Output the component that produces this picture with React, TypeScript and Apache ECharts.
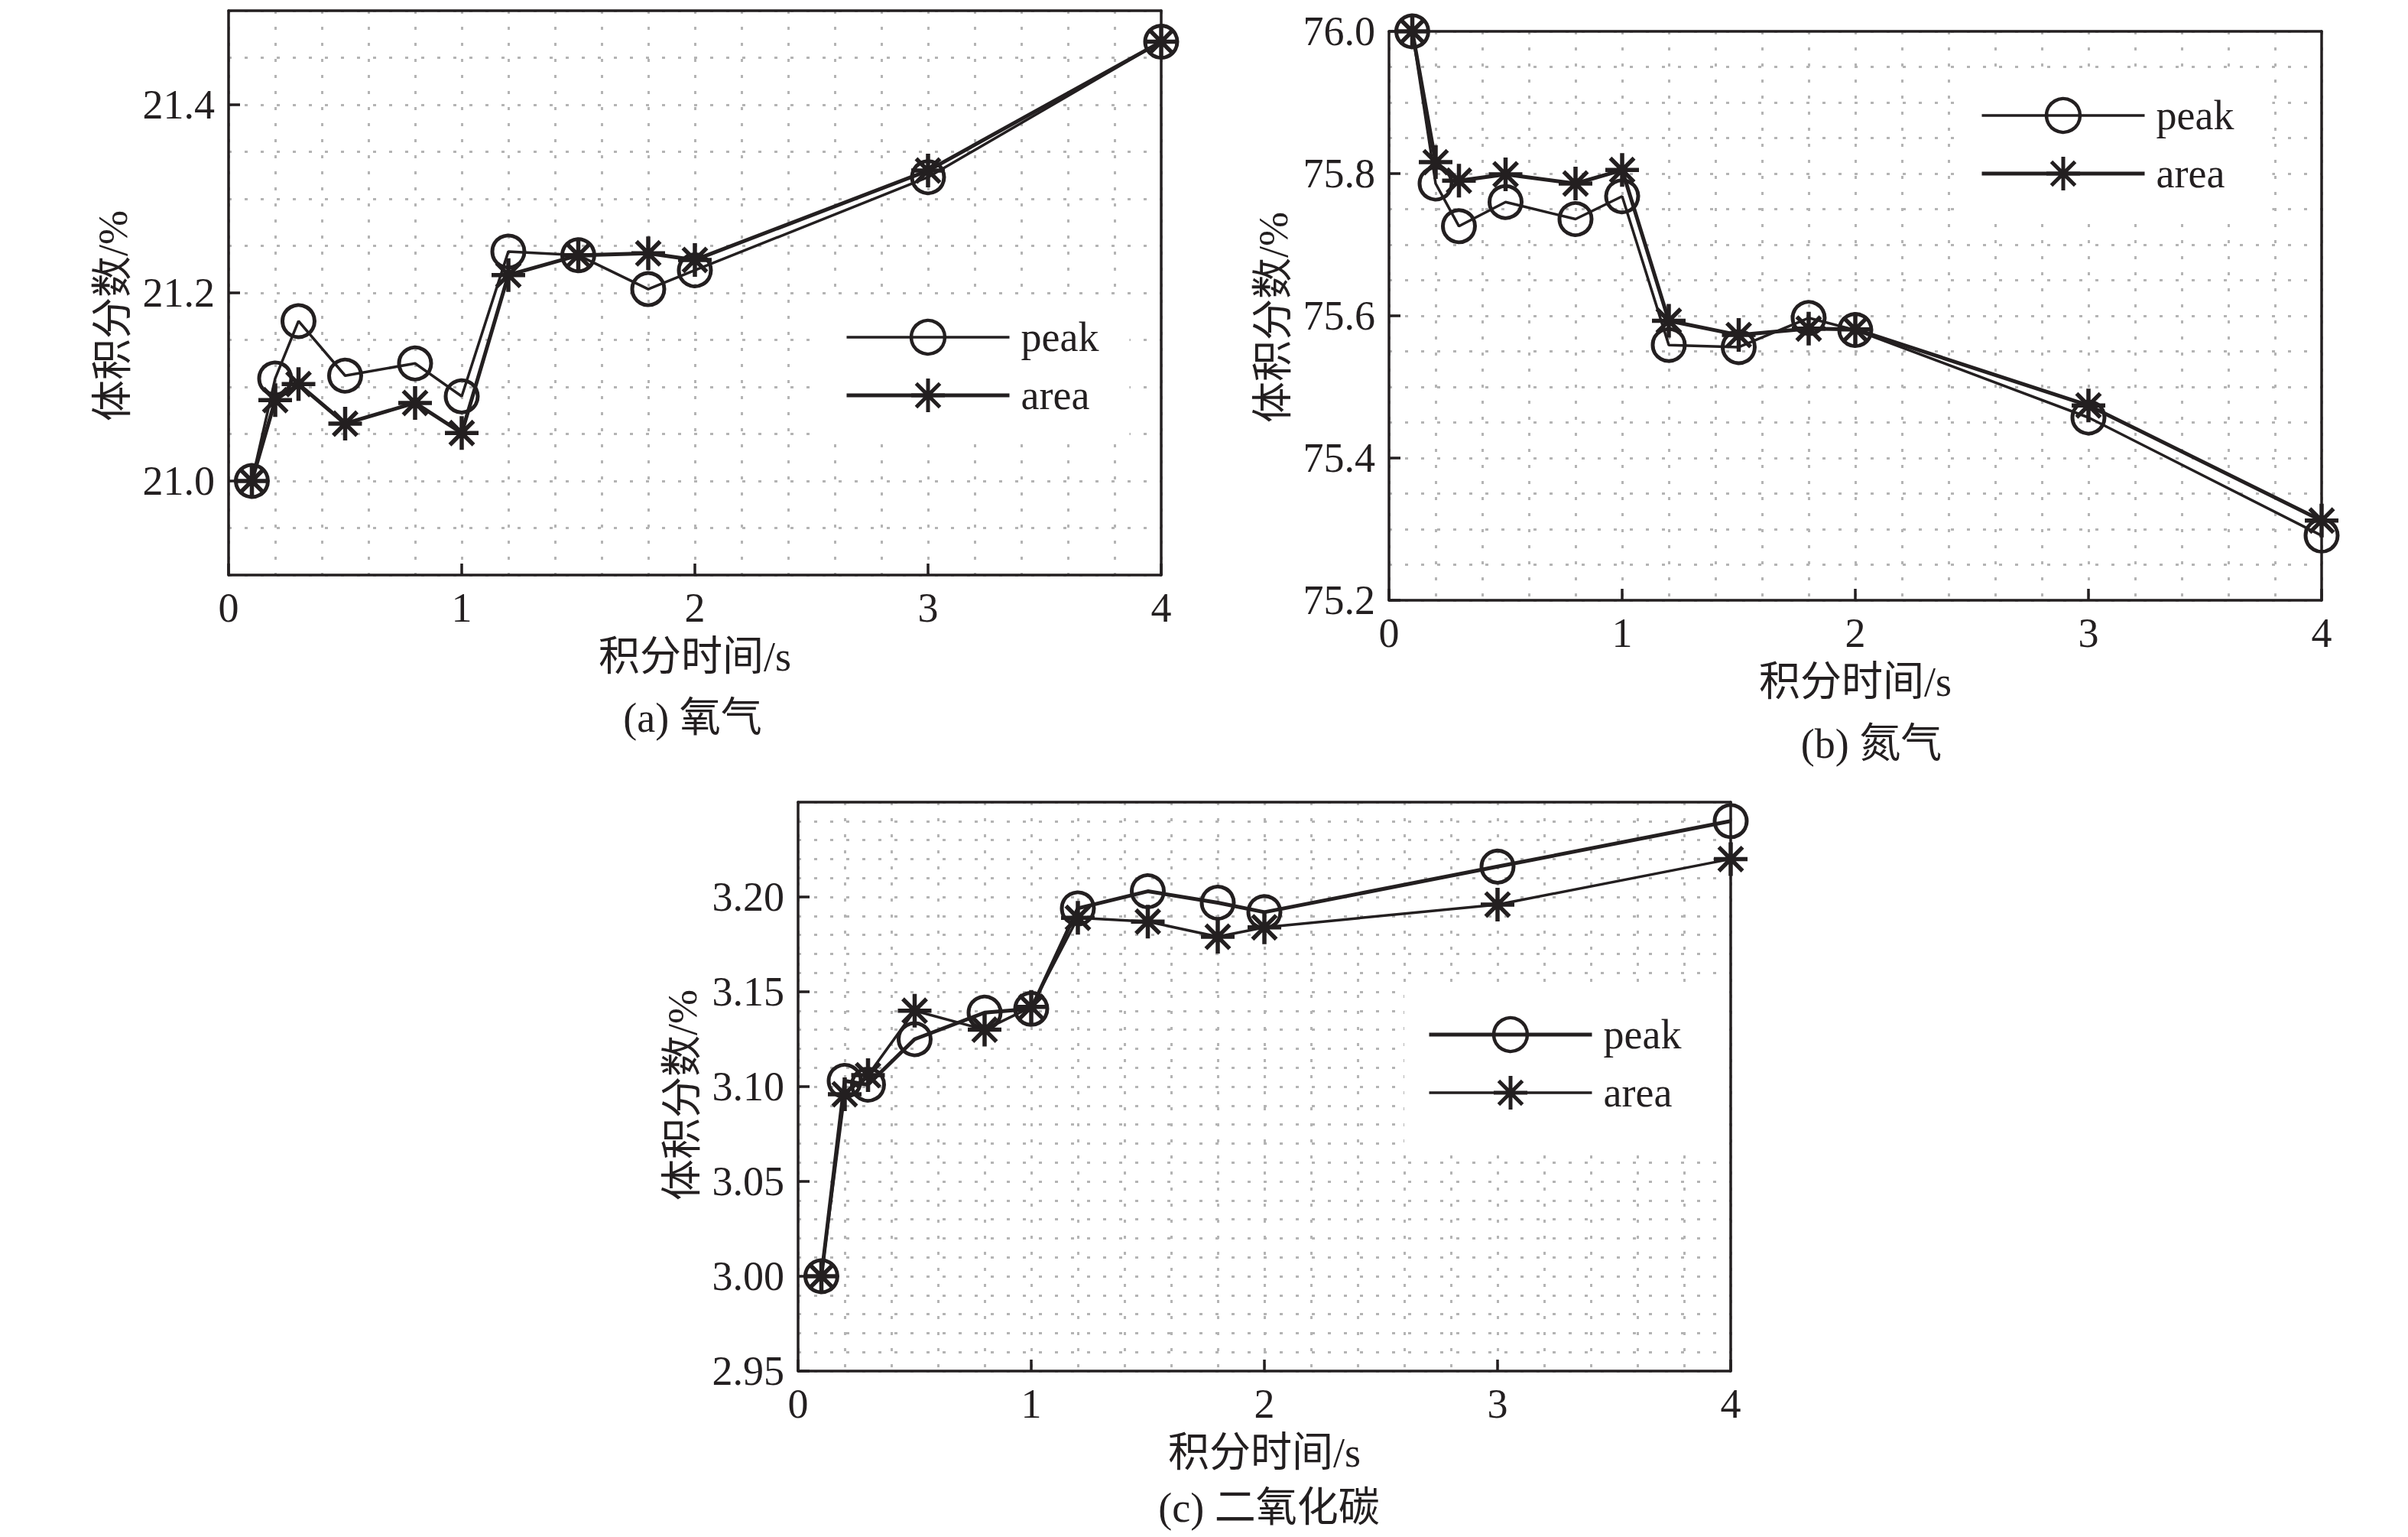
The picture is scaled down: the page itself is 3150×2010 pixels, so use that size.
import React, { useEffect, useRef } from "react";
import * as echarts from "echarts";

// ---------- data ----------
const xValues = [0.1, 0.2, 0.3, 0.5, 0.8, 1.0, 1.2, 1.5, 1.8, 2.0, 3.0, 4.0];
const xTickLabels = ["0", "1", "2", "3", "4"];

const o2Peak = [21.0, 21.109, 21.17, 21.112, 21.125, 21.09, 21.244, 21.24, 21.204, 21.224, 21.323, 21.467];
const o2Area = [21.0, 21.086, 21.103, 21.061, 21.083, 21.051, 21.219, 21.24, 21.242, 21.235, 21.33, 21.467];

const n2Peak = [76.0, 75.786, 75.726, 75.76, 75.736, 75.768, 75.559, 75.556, 75.597, 75.58, 75.457, 75.291];
const n2Area = [76.0, 75.816, 75.79, 75.799, 75.786, 75.805, 75.593, 75.573, 75.582, 75.581, 75.474, 75.312];

const co2Peak = [3.0, 3.103, 3.101, 3.125, 3.139, 3.141, 3.194, 3.203, 3.197, 3.192, 3.216, 3.24];
const co2Area = [3.0, 3.096, 3.106, 3.14, 3.13, 3.142, 3.189, 3.187, 3.179, 3.184, 3.196, 3.22];

const o2YLabels = ["21.0", "21.2", "21.4"];
const n2YLabels = ["75.2", "75.4", "75.6", "75.8", "76.0"];
const co2YLabels = ["2.95", "3.00", "3.05", "3.10", "3.15", "3.20"];

const panelTitles = ["(a) 氧气", "(b) 氮气", "(c) 二氧化碳"];
const xAxisName = "积分时间/s";
const yAxisName = "体积分数/%";
const seriesNames = ["peak", "area"];

// ---------- styling / layout ----------
const INK = "#231f20";
const GRIDC = "#b4b4b4";
const FONT = "'Liberation Serif', 'Times New Roman', 'Noto Sans CJK SC', serif";
const FS = 54;
const STAR =
  "path://M16,0L16,32M0,16L32,16M4.7,4.7L27.3,27.3M4.7,27.3L27.3,4.7";

const panels = [
  {
    key: "a",
    grid: { left: 299, top: 14, width: 1220, height: 738 },
    yMin: 20.9, yMax: 21.5, yStep: 0.1, yGridStep: 0.05, dec: 1,
    labels: o2YLabels, peak: o2Peak, area: o2Area,
    peakW: 3.5, areaW: 5,
    yNameShift: 30,
    legend: { left: 1075, top: 389, padding: [25, 40, 25, 30] },
    title: { x: 906, y: 939 },
  },
  {
    key: "b",
    grid: { left: 1817, top: 41, width: 1220, height: 744 },
    yMin: 75.2, yMax: 76.0, yStep: 0.2, yGridStep: 0.05, dec: 1,
    labels: n2YLabels, peak: n2Peak, area: n2Area,
    peakW: 3.5, areaW: 5,
    yNameShift: 2,
    legend: { left: 2560, top: 99, padding: [25, 50, 25, 30] },
    title: { x: 2448, y: 973 },
  },
  {
    key: "c",
    grid: { left: 1044, top: 1049, width: 1220, height: 744 },
    yMin: 2.95, yMax: 3.25, yStep: 0.05, yGridStep: 0.01, dec: 2,
    labels: co2YLabels, peak: co2Peak, area: co2Area,
    peakW: 5, areaW: 3.5,
    yNameShift: 11,
    legend: { left: 1837, top: 1287, padding: [39, 46, 50, 30] },
    title: { x: 1660, y: 1972 },
  },
];

function buildOption() {
  const grid: any[] = [];
  const xAxis: any[] = [];
  const yAxis: any[] = [];
  const series: any[] = [];
  const legend: any[] = [];
  const graphic: any[] = [];

  const textStyle = { fontSize: FS, fontFamily: FONT, color: INK };
  const gridLine = { show: true, lineStyle: { type: [4, 17], color: GRIDC, width: 3 } };
  const frameLine = { show: true, onZero: false, lineStyle: { color: INK, width: 3.5 } };

  panels.forEach((p, i) => {
    grid.push({ ...p.grid, show: false });
    const labelVals = p.labels.map(Number);
    // main x axis (bottom)
    xAxis.push({
      gridIndex: i,
      type: "value",
      min: 0,
      max: 4,
      interval: 1,
      position: "bottom",
      axisLine: frameLine,
      axisTick: { show: true, inside: true, length: 15, lineStyle: { color: INK, width: 3.5 } },
      axisLabel: {
        ...textStyle,
        margin: 16,
        formatter: (v: number) => xTickLabels[Math.round(v)] ?? "",
      },
      splitLine: { show: false },
      name: xAxisName,
      nameLocation: "middle",
      nameGap: 80,
      nameTextStyle: textStyle,
    });
    // grid-line x axis (top frame)
    xAxis.push({
      gridIndex: i,
      type: "value",
      min: 0,
      max: 4,
      interval: 0.2,
      position: "top",
      axisLine: frameLine,
      axisTick: { show: false },
      axisLabel: { show: false },
      splitLine: gridLine,
    });
    // main y axis (left)
    yAxis.push({
      gridIndex: i,
      type: "value",
      min: p.yMin,
      max: p.yMax,
      interval: p.yStep,
      position: "left",
      axisLine: frameLine,
      axisTick: {
        show: true,
        inside: true,
        length: 15,
        customValues: labelVals,
        lineStyle: { color: INK, width: 3.5 },
      },
      axisLabel: {
        ...textStyle,
        margin: 18,
        customValues: labelVals,
        formatter: (v: number) => {
          const s = v.toFixed(p.dec);
          return p.labels.includes(s) ? s : "";
        },
      },
      splitLine: { show: false },
      name: yAxisName,
      nameLocation: "middle",
      nameGap: 124,
      nameTextStyle: { ...textStyle, padding: [0, 2 * p.yNameShift, 0, 0] },
    });
    // grid-line y axis (right frame)
    yAxis.push({
      gridIndex: i,
      type: "value",
      min: p.yMin,
      max: p.yMax,
      interval: p.yGridStep,
      position: "right",
      axisLine: frameLine,
      axisTick: { show: false },
      axisLabel: { show: false },
      splitLine: gridLine,
    });

    const peakName = seriesNames[0] + "#" + p.key;
    const areaName = seriesNames[1] + "#" + p.key;
    series.push({
      type: "line",
      name: peakName,
      xAxisIndex: 2 * i,
      yAxisIndex: 2 * i,
      data: xValues.map((x, k) => [x, p.peak[k]]),
      symbol: "circle",
      symbolSize: 42,
      itemStyle: { color: "rgba(0,0,0,0)", borderColor: INK, borderWidth: 5 },
      lineStyle: { color: INK, width: p.peakW },
      z: 3,
    });
    series.push({
      type: "line",
      name: areaName,
      xAxisIndex: 2 * i,
      yAxisIndex: 2 * i,
      data: xValues.map((x, k) => [x, p.area[k]]),
      symbol: STAR,
      symbolSize: 44,
      itemStyle: { color: "rgba(0,0,0,0)", borderColor: INK, borderWidth: 5.5 },
      lineStyle: { color: INK, width: p.areaW },
      z: 4,
    });
    legend.push({
      data: [
        {
          name: peakName,
          itemStyle: { color: "rgba(0,0,0,0)", borderColor: INK, borderWidth: 4.5 },
          lineStyle: { color: INK, width: p.peakW },
        },
        {
          name: areaName,
          itemStyle: { color: "rgba(0,0,0,0)", borderColor: INK, borderWidth: 5 },
          lineStyle: { color: INK, width: p.areaW },
        },
      ],
      orient: "vertical",
      left: p.legend.left,
      top: p.legend.top,
      padding: p.legend.padding,
      itemWidth: 213,
      itemHeight: 55,
      itemGap: 22,
      backgroundColor: "#ffffff",
      selectedMode: false,
      textStyle: { ...textStyle, padding: [0, 0, 0, 10] },
      formatter: (n: string) => n.split("#")[0],
    });
    graphic.push({
      type: "text",
      x: p.title.x,
      y: p.title.y,
      style: {
        text: panelTitles[i],
        font: `${FS}px ${FONT}`,
        fill: INK,
        align: "center",
        verticalAlign: "middle",
      },
    });
  });

  return {
    animation: false,
    backgroundColor: "#ffffff",
    grid,
    xAxis,
    yAxis,
    series,
    legend,
    graphic,
  };
}

export default function App() {
  const ref = useRef<HTMLDivElement>(null);
  useEffect(() => {
    if (!ref.current) return;
    const chart = echarts.init(ref.current, undefined, { renderer: "svg" });
    chart.setOption(buildOption() as any);
    return () => chart.dispose();
  }, []);
  return (
    <div
      ref={ref}
      style={{ position: "fixed", left: 0, top: 0, width: 3150, height: 2010, background: "#fff" }}
    />
  );
}
